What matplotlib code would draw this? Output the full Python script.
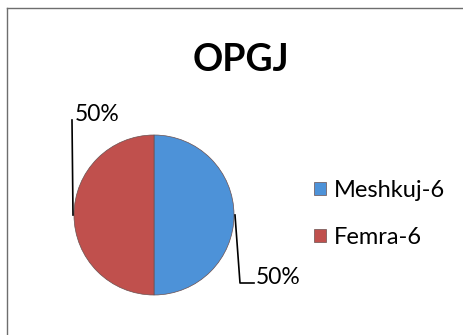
import numpy as np
import matplotlib.pyplot as plt

title = "OPGJ"
labels = ["Meshkuj-6", "Femra-6"]
values = [6, 6]
colors = ["#4d92d8", "#c0504d"]

plt.rcParams['font.family'] = ['Lato', 'DejaVu Sans']

W, H = 464, 335
fig = plt.figure(figsize=(W / 100, H / 100), dpi=100)
ax = fig.add_axes([0, 0, 1, 1])

# chart frame (only left and top edges fall inside the image)
ax.plot([7.5, 7.5], [0, H - 8], color="#6e6e6e", lw=1)
ax.plot([7.5, W], [H - 8, H - 8], color="#6e6e6e", lw=1)

cx, cy, r = 154, H - 215, 80
wedges, _ = ax.pie(values, colors=colors, startangle=90, counterclock=False,
                   center=(cx, cy), radius=r, frame=True,
                   wedgeprops=dict(linewidth=0.5, edgecolor="#6a5050"))
ax.set_xlim(0, W)
ax.set_ylim(0, H)
ax.set_aspect('equal')
ax.axis('off')

total = sum(values)
for w, v in zip(wedges, values):
    mid = np.deg2rad((w.theta1 + w.theta2) / 2)
    px, py = cx + r * np.cos(mid), cy + r * np.sin(mid)
    pct = "{:.0f}%".format(100 * v / total)
    if np.cos(mid) > 0:
        # leader drops down and bends right
        ax.plot([px + 1, px + 6, px + 20], [py, py - 68, py - 68], color="black", lw=1.2)
        ax.text(px + 22, py - 62, pct, fontsize=16.5, va="center", ha="left")
    else:
        # leader rises straight up
        ax.plot([px - 1, px - 2], [py, py + 95], color="black", lw=1.2)
        ax.text(px + 1, py + 100, pct, fontsize=16.5, va="center", ha="left")

ax.text(241, H - 60, title, fontsize=27, fontweight="bold", ha="center", va="center")

leg = ax.legend(wedges, labels, loc="center left", bbox_to_anchor=(314 / W, (H - 214) / H),
                bbox_transform=fig.transFigure, frameon=False, fontsize=17,
                borderpad=0, borderaxespad=0,
                handlelength=0.5, handleheight=0.5, handletextpad=0.35,
                labelspacing=1.1)

fig.savefig("out.png", dpi=100)
